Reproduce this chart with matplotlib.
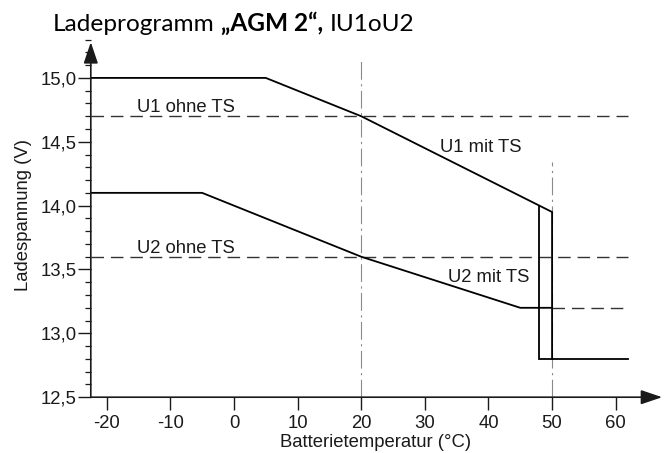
import matplotlib
matplotlib.use("Agg")
import matplotlib.pyplot as plt
from matplotlib.ticker import MultipleLocator, FuncFormatter

# === DATA ===
U1_MIT_T = [-22.5, 5, 20, 48, 50, 50]
U1_MIT_V = [15.0, 15.0, 14.7, 14.0, 13.95, 12.8]
CUT_T = [48, 48, 62]
CUT_V = [14.0, 12.8, 12.8]
U2_MIT_T = [-22.5, -5, 20, 45, 50]
U2_MIT_V = [14.1, 14.1, 13.6, 13.2, 13.2]

U1_OHNE = 14.7
U2_OHNE = 13.6
OHNE_T = [-22.5, 62]
U2_REST_T = [50, 62]
U2_REST_V = 13.2

MARK_T = [20, 50]
MARK_TOP = [15.13, 14.34]

X_TICKS = [-20, -10, 0, 10, 20, 30, 40, 50, 60]
Y_TICKS = [12.5, 13.0, 13.5, 14.0, 14.5, 15.0]

LABELS = [("U1 ohne TS", -15.2, 14.73), ("U2 ohne TS", -15.2, 13.63),
          ("U1 mit TS", 32.4, 14.418), ("U2 mit TS", 33.7, 13.40)]

XMIN, XMAX = -22.5, 68.0
YMIN, YMAX = 12.5, 15.3
ARROW_X = 67.3
ARROW_Y = 15.28

FONT = "Liberation Sans"
FS = 13.3
INK = "#1a1a1a"

W, H, DPI = 665, 453, 100

plt.rcParams["font.family"] = [FONT, "DejaVu Sans"]
plt.rcParams["axes.unicode_minus"] = False

fig = plt.figure(figsize=(W / DPI, H / DPI), dpi=DPI, facecolor="white")
ax = fig.add_axes([90.8 / W, (H - 397.2) / H, 575.8 / W, 357.6 / H])
ax.set_xlim(XMIN, XMAX)
ax.set_ylim(YMIN, YMAX)
for s in ax.spines.values():
    s.set_visible(False)
ax.patch.set_visible(False)

# reference marks (dash-dot)
for t, top in zip(MARK_T, MARK_TOP):
    ax.plot([t, t], [YMIN, top], color="#8a8a8a", lw=0.8,
            dashes=(16, 4, 2, 4), zorder=1)

# "ohne TS" levels (dashed)
dash = dict(color="#333333", lw=1.0, dashes=(9, 5), zorder=2)
ax.plot(OHNE_T, [U1_OHNE, U1_OHNE], **dash)
ax.plot(OHNE_T, [U2_OHNE, U2_OHNE], **dash)
ax.plot(U2_REST_T, [U2_REST_V, U2_REST_V], **dash)

# "mit TS" curves
solid = dict(color="black", lw=1.3, solid_joinstyle="miter", zorder=3)
ax.plot(U1_MIT_T, U1_MIT_V, **solid)
ax.plot(CUT_T, CUT_V, **solid)
ax.plot(U2_MIT_T, U2_MIT_V, **solid)

for txt, tx, ty in LABELS:
    ax.text(tx, ty, txt, fontsize=FS, color=INK, va="baseline", ha="left")

# axis lines with arrow heads
arrow = dict(arrowstyle="-|>,head_length=0.65,head_width=0.22",
             mutation_scale=20, color=INK, lw=1.2, shrinkA=0, shrinkB=0)
ax.annotate("", xy=(ARROW_X, YMIN), xytext=(XMIN, YMIN),
            arrowprops=arrow, annotation_clip=False)
ax.annotate("", xy=(XMIN, ARROW_Y), xytext=(XMIN, YMIN),
            arrowprops=arrow, annotation_clip=False)

# ticks
ax.set_xticks(X_TICKS)
ax.set_yticks(Y_TICKS)
ax.yaxis.set_minor_locator(MultipleLocator(0.1))
comma = FuncFormatter(lambda v, p: f"{v:.1f}".replace(".", ","))
ax.yaxis.set_major_formatter(comma)
ax.xaxis.set_major_formatter(FuncFormatter(lambda v, p: f"{v:.0f}"))
ax.tick_params(axis="both", which="major", direction="out", length=9.3,
               width=1.0, color=INK, labelsize=FS, labelcolor=INK)
ax.tick_params(axis="x", pad=3.5)
ax.tick_params(axis="y", pad=1.0)
ax.tick_params(axis="y", which="minor", direction="out", length=4.1,
               width=0.9, color=INK)

fig.text(375.5 / W, 1 - 447 / H, "Batterietemperatur (°C)", fontsize=FS,
         color=INK, ha="center", va="baseline")
fig.text(24 / W, 1 - 215 / H, "Ladespannung (V)", fontsize=FS,
         color=INK, ha="center", va="center", rotation=90)

# title: mixed weights, laid out piece by piece
title_parts = [("Ladeprogramm", "normal"), ("„AGM 2“,", "bold"), ("IU1oU2", "normal")]
tfs = 17.6
fig.canvas.draw()
renderer = fig.canvas.get_renderer()
x_px = 53.0
gap = 0.26 * tfs * DPI / 72
for txt, wt in title_parts:
    t = fig.text(x_px / W, 1 - 31 / H, txt, fontsize=tfs, fontweight=wt,
                 family=["Lato", "DejaVu Sans"], color="black",
                 ha="left", va="baseline")
    bb = t.get_window_extent(renderer)
    x_px = bb.x1 + gap

fig.savefig("out.png", dpi=DPI, facecolor="white")
